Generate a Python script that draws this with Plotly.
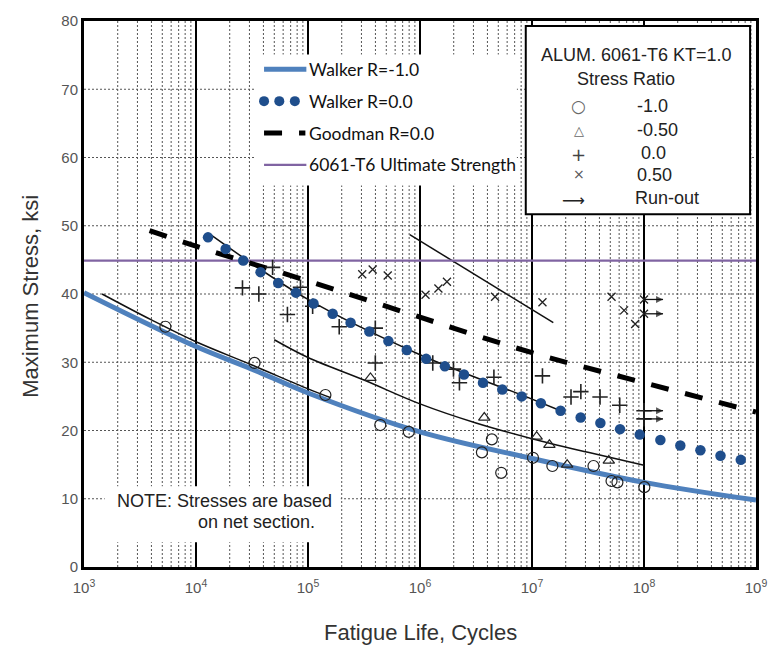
import math
import plotly.graph_objects as go

# ---------------- data (cycles, ksi) ----------------
walker_m1_cycles = [1e3, 1e4, 3.16e4, 1e5, 1e6, 1e7, 1e8, 1e9]
walker_m1_stress = [40.2, 32.3, 29.0, 25.5, 19.8, 15.9, 12.4, 9.8]

walker_0_cycles = [12800, 18400, 26400, 37700, 54200, 78000, 112000, 166000, 240000,
                   353000, 522000, 762000, 1.135e6, 1.667e6, 2.47e6, 3.65e6, 5.43e6,
                   8.09e6, 1.20e7, 1.80e7, 2.72e7, 4.08e7, 6.11e7, 9.16e7, 1.40e8,
                   2.11e8, 3.19e8, 4.82e8, 7.31e8]
walker_0_stress = [48.3, 46.6, 44.9, 43.2, 41.6, 40.2, 38.6, 37.1, 35.8, 34.5, 33.1,
                   31.8, 30.5, 29.4, 28.2, 27.0, 26.0, 25.0, 24.0, 22.9, 21.9, 21.1,
                   20.2, 19.4, 18.6, 17.8, 17.1, 16.3, 15.7]

goodman_cycles = [3850, 1e4, 1e5, 1e6, 1e7, 1e8, 1e9]
goodman_stress = [49.3, 47.0, 41.9, 36.6, 31.4, 27.0, 22.7]

ult_cycles = [1e3, 1e9]
ult_stress = [44.9, 44.9]

fit_m1_cycles = [1450, 4000, 1e4, 3.16e4, 1e5, 1.6e5]
fit_m1_stress = [40.0, 36.2, 33.0, 29.6, 26.1, 24.8]
fit_m05_cycles = [5e4, 1e5, 3.16e5, 1e6, 3.16e6, 1e7, 3.16e7, 1e8]
fit_m05_stress = [33.3, 30.7, 27.4, 23.9, 21.1, 18.8, 16.8, 14.9]
fit_0_cycles = [13200, 1e5, 1e6, 1e7, 1.8e7]
fit_0_stress = [48.8, 39.2, 31.1, 24.6, 22.9]
fit_05_cycles = [8.1e5, 1.55e7]
fit_05_stress = [48.7, 35.8]

circ_cycles = [5330, 33300, 143000, 442000, 794000, 3.57e6, 4.38e6, 5.31e6, 1.02e7,
               1.52e7, 3.54e7, 5.13e7, 5.79e7, 1.007e8]
circ_stress = [35.2, 29.9, 25.2, 20.8, 19.8, 16.8, 18.7, 13.8, 16.0, 14.8, 14.8, 12.6,
               12.4, 11.7]

tri_cycles = [361000, 3.75e6, 1.10e7, 1.43e7, 2.06e7, 4.85e7]
tri_stress = [27.7, 21.9, 19.1, 17.9, 15.0, 15.6]

plus_cycles = [26000, 36400, 48300, 65500, 85700, 110000, 190000, 399000, 399000,
               1.30e6, 1.99e6, 2.25e6, 4.57e6, 1.24e7, 2.23e7, 2.73e7, 4.05e7, 6.07e7]
plus_stress = [40.9, 40.0, 43.9, 37.0, 41.0, 38.2, 35.2, 35.0, 29.9, 29.9, 29.0, 27.0,
               27.8, 28.0, 24.9, 25.7, 24.9, 23.7]

x_cycles = [305000, 378000, 515000, 1.12e6, 1.46e6, 1.74e6, 4.68e6, 1.24e7, 5.13e7,
            6.64e7, 8.34e7]
x_stress = [42.9, 43.6, 42.7, 39.9, 40.8, 41.8, 39.6, 38.8, 39.6, 37.6, 35.6]

runout_x_cycles = [1e8, 1e8]
runout_x_stress = [39.2, 37.1]
runout_plus_cycles = [1e8, 1e8]
runout_plus_stress = [22.9, 21.7]
runout_arrow_decades = 0.17

x_tick_exps = [3, 4, 5, 6, 7, 8, 9]
y_ticks = [0, 10, 20, 30, 40, 50, 60, 70, 80]

# ---------------- geometry helpers ----------------
L, R, T, B = 84, 767, 13, 567
W, H = R - L, B - T


def px(xp):
    return (xp - L) / W


def py(yp):
    return (B - yp) / H


ARIAL = "Arial"
CAL = "Lato"

fig = go.Figure()

# fitted thin lines
for cx, cy in [(fit_m1_cycles, fit_m1_stress), (fit_m05_cycles, fit_m05_stress),
               (fit_0_cycles, fit_0_stress), (fit_05_cycles, fit_05_stress)]:
    fig.add_trace(go.Scatter(x=cx, y=cy, mode="lines",
                             line=dict(color="#111111", width=1.5, shape="spline"),
                             hoverinfo="skip"))

# ultimate strength
fig.add_trace(go.Scatter(x=ult_cycles, y=ult_stress, mode="lines",
                         line=dict(color="#8064A2", width=2.2), hoverinfo="skip"))
# Goodman
fig.add_trace(go.Scatter(x=goodman_cycles, y=goodman_stress, mode="lines",
                         line=dict(color="black", width=5, dash="18px,17px", shape="spline"),
                         hoverinfo="skip"))
# Walker R=-1
fig.add_trace(go.Scatter(x=walker_m1_cycles, y=walker_m1_stress, mode="lines",
                         line=dict(color="#4F81BD", width=5, shape="spline"),
                         hoverinfo="skip"))
# test data
mk_col = "#222222"
fig.add_trace(go.Scatter(x=circ_cycles, y=circ_stress, mode="markers",
                         marker=dict(symbol="circle-open", size=11,
                                     line=dict(color=mk_col, width=1.2), color=mk_col)))
fig.add_trace(go.Scatter(x=tri_cycles, y=tri_stress, mode="markers",
                         marker=dict(symbol="triangle-up-open", size=10,
                                     line=dict(color=mk_col, width=1.2), color=mk_col)))
fig.add_trace(go.Scatter(x=plus_cycles + runout_plus_cycles,
                         y=plus_stress + runout_plus_stress, mode="markers",
                         marker=dict(symbol="cross-thin-open", size=11,
                                     line=dict(color=mk_col, width=1.6), color=mk_col)))
fig.add_trace(go.Scatter(x=x_cycles + runout_x_cycles, y=x_stress + runout_x_stress,
                         mode="markers",
                         marker=dict(symbol="x-thin-open", size=8,
                                     line=dict(color=mk_col, width=1.3), color=mk_col)))
# run-out arrows
for cx, cy in zip(runout_x_cycles + runout_plus_cycles,
                  runout_x_stress + runout_plus_stress):
    fig.add_trace(go.Scatter(x=[cx, cx * 10 ** runout_arrow_decades], y=[cy, cy],
                             mode="lines+markers",
                             line=dict(color="#111", width=1.3),
                             marker=dict(symbol="arrow-right", size=[0, 7], color="#111",
                                         line=dict(width=0)),
                             hoverinfo="skip"))
# Walker R=0 (dots)
fig.add_trace(go.Scatter(x=walker_0_cycles, y=walker_0_stress, mode="markers",
                         marker=dict(symbol="circle", size=10.5, color="#1F4E8C"),
                         hoverinfo="skip"))

# ---------------- custom legend samples on overlay axes ----------------
leg_x0, leg_x1 = px(267), px(310)
fig.add_trace(go.Scatter(x=[leg_x0, leg_x1], y=[py(62)] * 2, mode="lines",
                         line=dict(color="#4F81BD", width=5), xaxis="x2", yaxis="y2"))
fig.add_trace(go.Scatter(x=[px(267), px(282.5), px(298.3)], y=[py(94.3)] * 3,
                         mode="markers", marker=dict(size=10, color="#1F4E8C"),
                         xaxis="x2", yaxis="y2"))
fig.add_trace(go.Scatter(x=[px(267), px(309)], y=[py(126.7)] * 2, mode="lines",
                         line=dict(color="black", width=5, dash="18px,17px"),
                         xaxis="x2", yaxis="y2"))
fig.add_trace(go.Scatter(x=[leg_x0, leg_x1], y=[py(159)] * 2, mode="lines",
                         line=dict(color="#8064A2", width=2.2), xaxis="x2", yaxis="y2"))

# ---------------- grid shapes ----------------
shapes = []
for k in range(3, 9):
    for m in range(2, 10):
        xv = (k + math.log10(m) - 3) / 6
        shapes.append(dict(type="line", xref="paper", yref="paper", x0=xv, x1=xv,
                           y0=0, y1=1, layer="below",
                           line=dict(color="#555555", width=1, dash="2px,2px")))
for yv in y_ticks[1:-1]:
    shapes.append(dict(type="line", xref="paper", yref="paper", x0=0, x1=1,
                       y0=yv / 80, y1=yv / 80, layer="below",
                       line=dict(color="#555555", width=1, dash="2px,2px")))
for k in range(4, 9):
    xv = (k - 3) / 6
    shapes.append(dict(type="line", xref="paper", yref="paper", x0=xv, x1=xv,
                       y0=0, y1=1, layer="below", line=dict(color="black", width=2)))
# white backgrounds for legend / note
shapes.append(dict(type="rect", xref="paper", yref="paper", x0=px(257), x1=px(524),
                   y0=py(180), y1=py(47), layer="below", fillcolor="white",
                   line=dict(width=0)))
shapes.append(dict(type="rect", xref="paper", yref="paper", x0=px(105), x1=px(345),
                   y0=py(542), y1=py(485), layer="below", fillcolor="white",
                   line=dict(width=0)))
shapes.append(dict(type="rect", xref="paper", yref="paper", x0=px(533), x1=px(761),
                   y0=py(209), y1=py(18), layer="below", fillcolor="white",
                   line=dict(color="black", width=2)))

# ---------------- annotations ----------------
ann = []


def txt(x, y, s, size=18, font=ARIAL, color="#222222", xanchor="center", **kw):
    ann.append(dict(x=x, y=y, xref="paper", yref="paper", text=s, showarrow=False,
                    xanchor=xanchor, yanchor="middle",
                    font=dict(family=font, size=size, color=color), **kw))


# left legend labels
for yy, lab in [(62, "Walker R=-1.0"), (94.3, "Walker R=0.0"),
                (126.7, "Goodman R=0.0"), (159, "6061-T6 Ultimate Strength")]:
    txt(px(311), py(yy), lab, size=17.5, font=CAL, color="#111", xanchor="left")

# right box
txt(px(646), py(47), "ALUM. 6061-T6 KT=1.0", size=18)
txt(px(634.5), py(72), "Stress Ratio", size=18)
sym_x = px(587)
txt(sym_x, py(99), "○", size=17, font="DejaVu Sans", color="#666")
txt(sym_x, py(124), "△", size=13, font="DejaVu Sans", color="#666")
txt(sym_x, py(148), "+", size=18, font="DejaVu Sans", color="#444")
txt(sym_x, py(168), "×", size=14, font="DejaVu Sans", color="#555")
txt(px(582), py(195), "⟶", size=16, font="DejaVu Sans", color="#222")
txt(px(662), py(99), "-1.0", size=18)
txt(px(667), py(124), "-0.50", size=18)
txt(px(663), py(147), "0.0", size=18)
txt(px(663.5), py(169), "0.50", size=18)
txt(px(676.5), py(193), "Run-out", size=18)

# note
txt(px(116), py(500), "NOTE: Stresses are based", size=18, xanchor="left")
txt(px(198), py(521), "on net section.", size=18, xanchor="left")

# axis titles
txt(px(30), py(292), "Maximum Stress, ksi", size=22, color="#333", textangle=-90)
txt(px(426), py(633), "Fatigue Life, Cycles", size=22, color="#333")

fig.update_layout(
    width=779, height=646,
    margin=dict(l=L, r=779 - R, t=T, b=646 - B),
    paper_bgcolor="white", plot_bgcolor="white", showlegend=False,
    shapes=shapes, annotations=ann,
    xaxis=dict(type="log", range=[3, 9], showgrid=False, zeroline=False,
               showline=True, linecolor="black", linewidth=3, mirror=True,
               tickvals=[10 ** k for k in x_tick_exps],
               ticktext=[f"10<sup>{k}</sup>" for k in x_tick_exps],
               ticks="", ticklabelstandoff=5,
               tickfont=dict(family=ARIAL, size=15, color="#555")),
    yaxis=dict(range=[0, 80], tickvals=y_ticks, showgrid=False, zeroline=False,
               showline=True, linecolor="black", linewidth=3, mirror=True, ticks="",
               tickfont=dict(family=ARIAL, size=15, color="#555")),
    xaxis2=dict(overlaying="x", range=[0, 1], visible=False),
    yaxis2=dict(overlaying="y", range=[0, 1], visible=False),
)

fig.write_html("out.html")
